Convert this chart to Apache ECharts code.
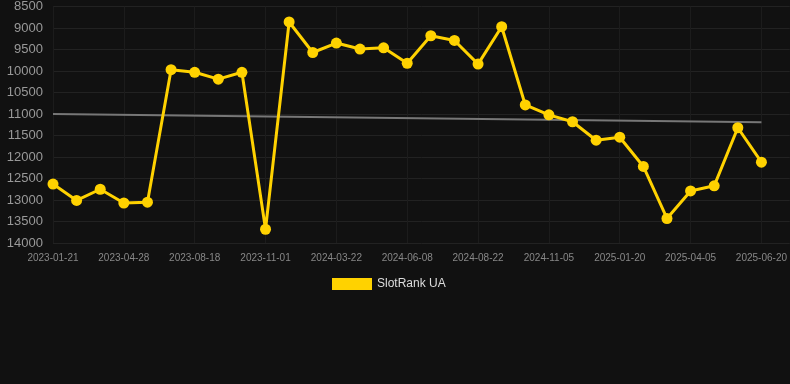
<!DOCTYPE html>
<html>
<head>
<meta charset="utf-8">
<script src="https://cdn.jsdelivr.net/npm/echarts@6/dist/echarts.min.js"></script>
<style>
html, body { margin: 0; padding: 0; background: #111111; }
#chart { width: 790px; height: 384px; }
</style>
</head>
<body>
<div id="chart"></div>
<script>
// categories (only every third date is labelled on the axis)
var dates = [
    '2023-01-21', '2023-02-22', '2023-03-27', '2023-04-28', '2023-05-31', '2023-07-03',
    '2023-08-18', '2023-09-12', '2023-10-07', '2023-11-01', '2023-12-20', '2024-02-08',
    '2024-03-22', '2024-04-17', '2024-05-13', '2024-06-08', '2024-07-03', '2024-07-28',
    '2024-08-22', '2024-09-16', '2024-10-11', '2024-11-05', '2024-11-30', '2024-12-25',
    '2025-01-20', '2025-02-12', '2025-03-10', '2025-04-05', '2025-04-30', '2025-05-26',
    '2025-06-20'
];
var rankUA = [
    12630, 13010, 12750, 13070, 13050, 9970,
    10030, 10190, 10030, 13680, 8860, 9570,
    9350, 9490, 9460, 9820, 9180, 9290,
    9840, 8970, 10790, 11020, 11180, 11610,
    11540, 12220, 13430, 12790, 12670, 11320,
    12120
];
// trend line end points
var trendStart = 11000;
var trendEnd = 11190;

// x is the position of each date in the list, so the axis can run on past the last date
var rankData = rankUA.map(function (v, i) { return [i, v]; });
var trendData = [[0, trendStart], [dates.length - 1, trendEnd]];

var dom = document.getElementById('chart');
var myChart = echarts.init(dom);
myChart.setOption({
    backgroundColor: '#111111',
    animation: false,
    grid: {
        top: 6,
        left: 53,
        right: 0,
        bottom: 141
    },
    legend: {
        data: ['SlotRank UA'],
        top: 278,
        left: 332,
        padding: 0,
        itemWidth: 40,
        itemHeight: 12,
        itemGap: 6,
        icon: 'rect',
        textStyle: {
            color: '#dddddd',
            fontSize: 12,
            fontFamily: 'Liberation Sans, Arial, sans-serif'
        }
    },
    xAxis: {
        type: 'value',
        min: 0,
        max: 31.2,
        interval: 3,
        axisLine: { show: false },
        axisTick: { show: false },
        axisLabel: {
            color: '#888888',
            fontSize: 10,
            margin: 10,
            showMaxLabel: false,
            fontFamily: 'Liberation Sans, Arial, sans-serif',
            formatter: function (v) { return dates[v] || ''; }
        },
        splitLine: {
            show: true,
            lineStyle: { color: '#1c1c1c', width: 1 }
        }
    },
    yAxis: {
        type: 'value',
        inverse: true,
        min: 8500,
        max: 14000,
        interval: 500,
        axisLine: { show: false },
        axisTick: { show: false },
        axisLabel: {
            color: '#999999',
            fontSize: 13,
            margin: 10,
            fontFamily: 'Liberation Sans, Arial, sans-serif',
            formatter: function (v) { return String(v); }
        },
        splitLine: {
            lineStyle: { color: '#222222', width: 1 }
        }
    },
    series: [
        {
            name: 'Trend',
            type: 'line',
            data: trendData,
            symbol: 'none',
            silent: true,
            lineStyle: { color: '#777777', width: 2 },
            z: 1
        },
        {
            name: 'SlotRank UA',
            type: 'line',
            data: rankData,
            symbol: 'circle',
            symbolSize: 11,
            itemStyle: { color: '#FFD200' },
            lineStyle: { color: '#FFD200', width: 3 },
            z: 3
        }
    ]
});
window.addEventListener('resize', function () {
    myChart.resize();
});
</script>
</body>
</html>
